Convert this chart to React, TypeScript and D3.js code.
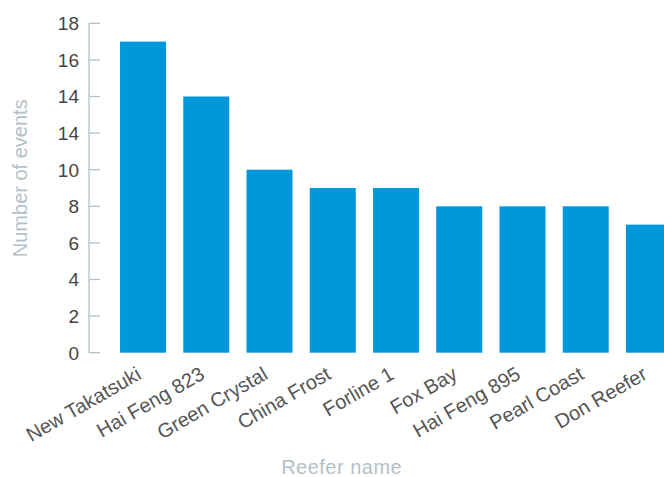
import React from "react";
import * as d3 from "d3";

const categories = [
  "New Takatsuki",
  "Hai Feng 823",
  "Green Crystal",
  "China Frost",
  "Forline 1",
  "Fox Bay",
  "Hai Feng 895",
  "Pearl Coast",
  "Don Reefer",
];
const values = [17, 14, 10, 9, 9, 8, 8, 8, 7];
const tickValues = [0, 2, 4, 6, 8, 10, 12, 14, 16, 18];
const tickLabels = ["0", "2", "4", "6", "8", "10", "14", "14", "16", "18"];

const W = 664;
const H = 477;
const FONT = "'Liberation Sans', Arial, Helvetica, sans-serif";

export default function App() {
  const y = d3.scaleLinear().domain([0, 18]).range([352.7, 23.3]);
  const x = d3
    .scaleBand<string>()
    .domain(categories)
    .range([111.4, 680.6])
    .paddingInner(0.273)
    .paddingOuter(0.1365);
  const axisX = 89;

  return (
    <svg
      width={W}
      height={H}
      style={{ position: "absolute", left: 0, top: 0, background: "#fff" }}
    >
      <g>
        {categories.map((c, i) => (
          <rect
            key={c}
            x={x(c)}
            y={y(values[i])}
            width={x.bandwidth()}
            height={y(0) - y(values[i])}
            fill="#0098da"
          />
        ))}
      </g>
      <g stroke="#b3c0c5" strokeWidth={1.3} fill="none">
        <line x1={axisX} x2={axisX} y1={y(18)} y2={y(0)} />
        {tickValues.map((t) => (
          <line key={t} x1={axisX} x2={axisX + 11} y1={y(t)} y2={y(t)} />
        ))}
      </g>
      <g fontFamily={FONT} fontSize={19} fill="#454545">
        {tickValues.map((t, i) => (
          <text key={t} x={79} y={y(t)} dy="0.36em" textAnchor="end">
            {tickLabels[i]}
          </text>
        ))}
      </g>
      <g fontFamily={FONT} fontSize={20} fill="#555">
        {categories.map((c) => (
          <text
            key={c}
            textAnchor="end"
            transform={`translate(${(x(c) ?? 0) + x.bandwidth() / 2 - 0.5},${378}) rotate(-30)`}
          >
            {c}
          </text>
        ))}
      </g>
      <text
        fontFamily={FONT}
        fontSize={20}
        fill="#b3c1c6"
        textAnchor="middle"
        transform={`translate(26.7,${178.3}) rotate(-90)`}
      >
        Number of events
      </text>
      <text
        fontFamily={FONT}
        fontSize={20}
        fill="#b3c1c6"
        textAnchor="middle"
        letterSpacing={0.5}
        x={341.7}
        y={474.3}
      >
        Reefer name
      </text>
    </svg>
  );
}
